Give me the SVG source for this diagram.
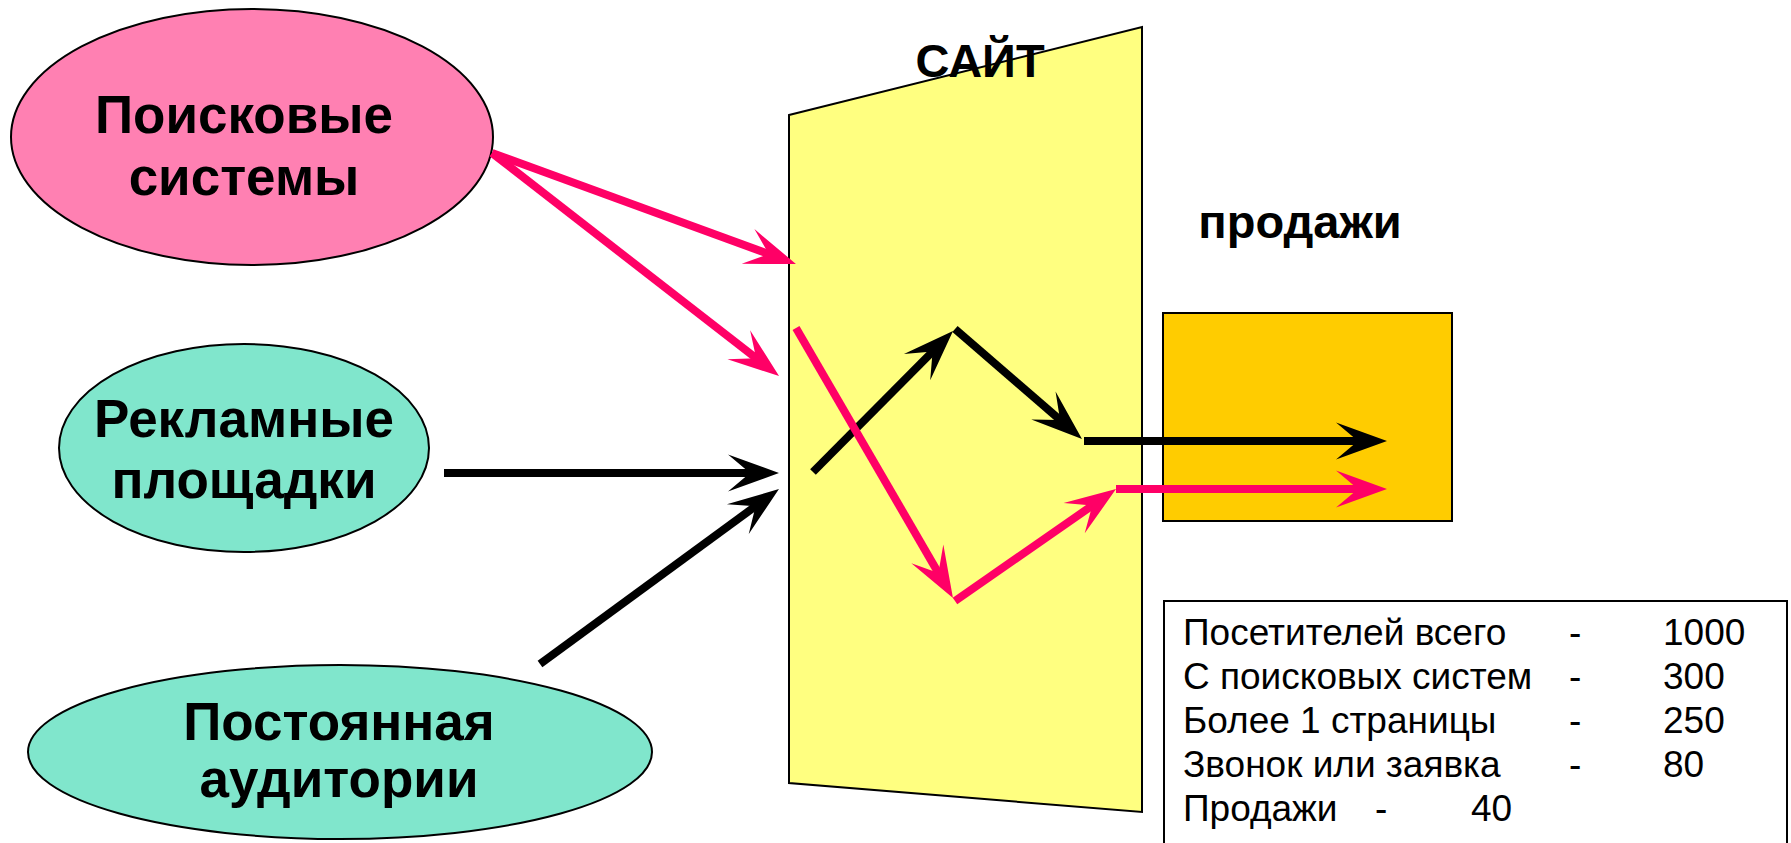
<svg xmlns="http://www.w3.org/2000/svg" width="1791" height="843" viewBox="0 0 1791 843">
<style>
.lbl{font-family:"Liberation Sans",Arial,sans-serif;font-weight:bold;font-size:53px;fill:#000;text-anchor:middle}
.big{font-family:"Liberation Sans",Arial,sans-serif;font-weight:bold;font-size:47px;fill:#000;text-anchor:middle}
.st{font-family:"Liberation Sans",Arial,sans-serif;font-size:37px;fill:#000}
.node{stroke:#000;stroke-width:2}
.pk{stroke:#FF0066;stroke-width:8;fill:none;marker-end:url(#ap)}
.bk{stroke:#000;stroke-width:8;fill:none;marker-end:url(#ab)}
</style>
<defs>
<marker id="ap" viewBox="-52 -20 54 40" refX="-25" refY="0" markerWidth="54" markerHeight="40" markerUnits="userSpaceOnUse" orient="auto">
<path d="M0,0 L-51,-18.5 L-29,0 L-51,18.5 Z" fill="#FF0066"/>
</marker>
<marker id="ab" viewBox="-52 -20 54 40" refX="-25" refY="0" markerWidth="54" markerHeight="40" markerUnits="userSpaceOnUse" orient="auto">
<path d="M0,0 L-51,-18.5 L-29,0 L-51,18.5 Z" fill="#000"/>
</marker>
</defs>
<rect width="1791" height="843" fill="#fff"/>

<g id="site">
<polygon class="node" points="789,115 1142,27 1142,812 789,783" fill="#FFFF80"/>
<text class="big" x="980" y="77">САЙТ</text>
</g>

<g id="search">
<ellipse class="node" cx="252" cy="137" rx="241" ry="128" fill="#FF80B2"/>
<text class="lbl" x="244" y="133">Поисковые</text>
<text class="lbl" x="244" y="195">системы</text>
</g>

<g id="ads">
<ellipse class="node" cx="244" cy="448" rx="185" ry="104" fill="#80E6CC"/>
<text class="lbl" x="244" y="437">Рекламные</text>
<text class="lbl" x="244" y="498">площадки</text>
</g>

<g id="audience">
<ellipse class="node" cx="340" cy="752" rx="312" ry="87" fill="#80E6CC"/>
<text class="lbl" x="339" y="740">Постоянная</text>
<text class="lbl" x="339" y="797">аудитории</text>
</g>

<g id="sales">
<text class="big" x="1300" y="238">продажи</text>
<rect class="node" x="1163" y="313" width="289" height="208" fill="#FFCC00"/>
</g>

<g id="connectors">
<line class="pk" x1="492" y1="153" x2="772.5" y2="255.4"/>
<line class="pk" x1="492" y1="153" x2="759.3" y2="360.7"/>
<line class="bk" x1="444" y1="473" x2="754" y2="473"/>
<line class="bk" x1="540" y1="664" x2="758.8" y2="503.8"/>
<line class="bk" x1="813" y1="472" x2="935.4" y2="348.7"/>
<line class="bk" x1="955" y1="329" x2="1063.1" y2="422.6"/>
<line class="bk" x1="1084" y1="441" x2="1362" y2="441"/>
<line class="pk" x1="796" y1="328" x2="940.4" y2="576.4"/>
<line class="pk" x1="955" y1="601" x2="1095.5" y2="503.3"/>
<line class="pk" x1="1116" y1="489" x2="1362" y2="489"/>
</g>

<g id="stats">
<rect class="node" x="1164" y="601" width="623" height="260" fill="#fff"/>
<text class="st" x="1183" y="645">Посетителей всего</text>
<text class="st" x="1569" y="645">-</text>
<text class="st" x="1663" y="645">1000</text>
<text class="st" x="1183" y="689">С поисковых систем</text>
<text class="st" x="1569" y="689">-</text>
<text class="st" x="1663" y="689">300</text>
<text class="st" x="1183" y="733">Более 1 страницы</text>
<text class="st" x="1569" y="733">-</text>
<text class="st" x="1663" y="733">250</text>
<text class="st" x="1183" y="777">Звонок или заявка</text>
<text class="st" x="1569" y="777">-</text>
<text class="st" x="1663" y="777">80</text>
<text class="st" x="1183" y="821">Продажи</text>
<text class="st" x="1375" y="821">-</text>
<text class="st" x="1471" y="821">40</text>
</g>
</svg>
